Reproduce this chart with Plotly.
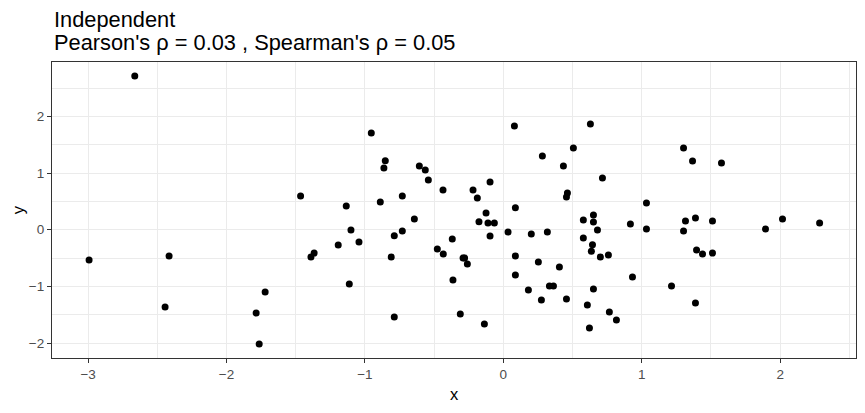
import plotly.graph_objects as go

x_vals = [
    -2.663, -2.993, -2.415, -2.444, -1.721, -1.786, -1.764, -1.465,
    -0.954, 0.080, -0.853, -0.863, -0.607, -0.564, -0.542, -0.096, -0.436, -0.219,
    -0.188, -0.730, -1.135, -0.889, 0.087, -0.125, -0.643, -0.176, -0.111, -0.065,
    -1.101, -0.730, -0.788, -0.096, 0.034, -1.043, -1.193, -0.369, -1.367, -1.390,
    -0.810, -0.477, -0.434, 0.087, -0.291, -0.280, -0.260, 0.087, -1.113, -0.364,
    -0.788, -0.311, -0.137,
    0.629, 0.506, 0.282, 1.302, 0.434, 0.716, 0.463, 0.456, 1.034, 0.651,
    0.578, 0.651, 1.316, 0.918, 0.680, 1.034, 1.302, 0.202, 0.318, 0.578,
    0.644, 0.636, 0.701, 0.759, 0.253, 0.405, 0.933, 1.215, 0.181, 0.333,
    0.362, 0.651, 0.275, 0.456, 0.607, 0.766, 0.817, 0.622,
    1.367, 1.576, 1.388, 1.511, 1.894, 2.017, 2.285, 1.396, 1.439, 1.511, 1.388,
]
y_vals = [
    2.712, -0.535, -0.464, -1.364, -1.099, -1.470, -2.017, 0.594,
    1.706, 1.830, 1.218, 1.088, 1.124, 1.053, 0.877, 0.841, 0.700, 0.700,
    0.559, 0.594, 0.418, 0.488, 0.388, 0.294, 0.188, 0.141, 0.118, 0.118,
    -0.006, -0.024, -0.106, -0.112, -0.041, -0.218, -0.271, -0.165, -0.412, -0.482,
    -0.482, -0.341, -0.429, -0.465, -0.500, -0.500, -0.606, -0.800, -0.959, -0.888,
    -1.541, -1.488, -1.665,
    1.865, 1.441, 1.300, 1.441, 1.124, 0.912, 0.647, 0.577, 0.471, 0.259,
    0.171, 0.136, 0.153, 0.100, -0.006, 0.012, -0.024, -0.077, -0.041, -0.147,
    -0.265, -0.382, -0.482, -0.447, -0.571, -0.659, -0.835, -0.994, -1.065, -0.994,
    -0.994, -1.047, -1.241, -1.224, -1.329, -1.453, -1.594, -1.735,
    1.212, 1.177, 0.206, 0.153, 0.012, 0.188, 0.118, -0.359, -0.429, -0.412, -1.294,
]

title_lines = ["Independent", "Pearson's ρ = 0.03 , Spearman's ρ = 0.05"]
x_ticks = [-3, -2, -1, 0, 1, 2]
y_ticks = [-2, -1, 0, 1, 2]

FONT = "Arial, Liberation Sans, sans-serif"
# the page body adds an 8px offset, so the figure is sized and laid out in
# coordinates shifted by 8px relative to the window
OFF = 8
W, H = 865 - 2 * OFF, 413 - 2 * OFF
ML, MT = 52.3 - OFF, 62.3 - OFF
MR = W - (855.7 - OFF)
MB = H - (358.3 - OFF)
PH = H - MT - MB
PW = W - ML - MR


def py_to_paper(py):
    return (H - MB - (py - OFF)) / PH


def px_to_paper(px):
    return ((px - OFF) - ML) / PW


fig = go.Figure(
    go.Scatter(
        x=x_vals, y=y_vals, mode="markers",
        marker=dict(color="black", size=7, line=dict(width=0)),
        showlegend=False,
    )
)

axis_common = dict(
    showgrid=True, gridcolor="#EBEBEB", gridwidth=1.1,
    zeroline=False, automargin=False,
    showline=True, linecolor="#333333", linewidth=1.1, mirror=True,
    ticks="outside", ticklen=4, tickcolor="#333333", tickwidth=1.1,
    tickfont=dict(family=FONT, size=13.5, color="#4D4D4D"),
    minor=dict(showgrid=True, gridcolor="#EBEBEB", gridwidth=0.55, dtick=0.5, ticks=""),
)

line_centers = [19.8, 42.6]
annotations = [
    dict(
        text=t, showarrow=False, xref="paper", yref="paper",
        x=px_to_paper(52.0), xanchor="left",
        y=py_to_paper(cy), yanchor="middle",
        font=dict(family=FONT, size=21.8, color="black"),
    )
    for t, cy in zip(title_lines, line_centers)
]

fig.update_layout(
    width=W, height=H,
    margin=dict(l=ML, r=MR, t=MT, b=MB, autoexpand=False),
    paper_bgcolor="white", plot_bgcolor="white",
    font=dict(family=FONT, color="black"),
    annotations=annotations,
    xaxis=dict(
        range=[-3.261, 2.548], tickvals=x_ticks,
        title=dict(text="x", font=dict(family=FONT, size=16.5, color="black"), standoff=7),
        **axis_common,
    ),
    yaxis=dict(
        range=[-2.264, 2.959], tickvals=y_ticks,
        title=dict(text="y", font=dict(family=FONT, size=16.5, color="black"), standoff=0),
        **axis_common,
    ),
)

fig.write_html("out.html")
